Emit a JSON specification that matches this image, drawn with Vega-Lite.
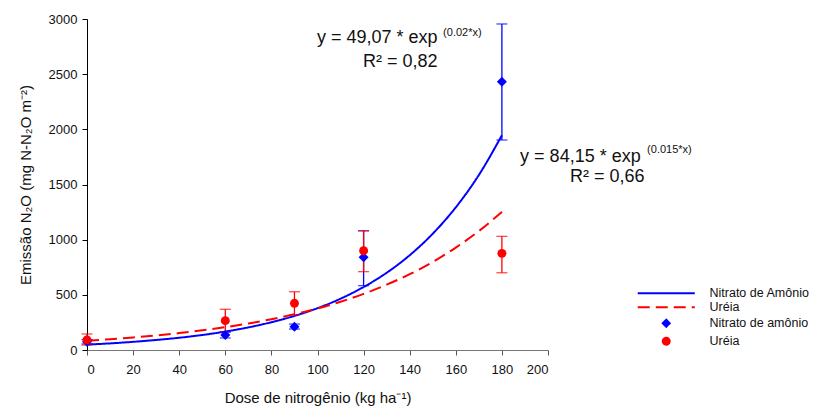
{
  "$schema": "https://vega.github.io/schema/vega-lite/v6.json",
  "width": 461,
  "height": 331,
  "autosize": {"type": "none"},
  "padding": {"left": 87, "top": 19, "right": 265, "bottom": 58},
  "background": "white",
  "config": {
    "font": "Liberation Sans",
    "view": {"stroke": null},
    "axis": {"grid": false, "labelFont": "Liberation Sans", "titleFont": "Liberation Sans", "labelFontSize": 13, "titleFontSize": 15, "titleFontWeight": "normal", "labelColor": "#111", "titleColor": "#111", "format": "d"},
    "legend": {"labelFont": "Liberation Sans", "labelFontSize": 12.5, "labelColor": "#111", "title": null}
  },
  "datasets": {
    "curvas": [
      {"dose": 0, "emissao": 49, "serie": "curva: Nitrato de Amônio"},
      {"dose": 10, "emissao": 60, "serie": "curva: Nitrato de Amônio"},
      {"dose": 20, "emissao": 74, "serie": "curva: Nitrato de Amônio"},
      {"dose": 30, "emissao": 91, "serie": "curva: Nitrato de Amônio"},
      {"dose": 40, "emissao": 111, "serie": "curva: Nitrato de Amônio"},
      {"dose": 50, "emissao": 136, "serie": "curva: Nitrato de Amônio"},
      {"dose": 60, "emissao": 167, "serie": "curva: Nitrato de Amônio"},
      {"dose": 70, "emissao": 205, "serie": "curva: Nitrato de Amônio"},
      {"dose": 80, "emissao": 252, "serie": "curva: Nitrato de Amônio"},
      {"dose": 90, "emissao": 309, "serie": "curva: Nitrato de Amônio"},
      {"dose": 100, "emissao": 379, "serie": "curva: Nitrato de Amônio"},
      {"dose": 110, "emissao": 465, "serie": "curva: Nitrato de Amônio"},
      {"dose": 120, "emissao": 571, "serie": "curva: Nitrato de Amônio"},
      {"dose": 130, "emissao": 700, "serie": "curva: Nitrato de Amônio"},
      {"dose": 140, "emissao": 859, "serie": "curva: Nitrato de Amônio"},
      {"dose": 150, "emissao": 1054, "serie": "curva: Nitrato de Amônio"},
      {"dose": 160, "emissao": 1293, "serie": "curva: Nitrato de Amônio"},
      {"dose": 170, "emissao": 1586, "serie": "curva: Nitrato de Amônio"},
      {"dose": 180, "emissao": 1946, "serie": "curva: Nitrato de Amônio"},
      {"dose": 0, "emissao": 84, "serie": "curva: Uréia"},
      {"dose": 10, "emissao": 98, "serie": "curva: Uréia"},
      {"dose": 20, "emissao": 114, "serie": "curva: Uréia"},
      {"dose": 30, "emissao": 132, "serie": "curva: Uréia"},
      {"dose": 40, "emissao": 153, "serie": "curva: Uréia"},
      {"dose": 50, "emissao": 178, "serie": "curva: Uréia"},
      {"dose": 60, "emissao": 207, "serie": "curva: Uréia"},
      {"dose": 70, "emissao": 240, "serie": "curva: Uréia"},
      {"dose": 80, "emissao": 279, "serie": "curva: Uréia"},
      {"dose": 90, "emissao": 325, "serie": "curva: Uréia"},
      {"dose": 100, "emissao": 377, "serie": "curva: Uréia"},
      {"dose": 110, "emissao": 438, "serie": "curva: Uréia"},
      {"dose": 120, "emissao": 509, "serie": "curva: Uréia"},
      {"dose": 130, "emissao": 592, "serie": "curva: Uréia"},
      {"dose": 140, "emissao": 687, "serie": "curva: Uréia"},
      {"dose": 150, "emissao": 798, "serie": "curva: Uréia"},
      {"dose": 160, "emissao": 928, "serie": "curva: Uréia"},
      {"dose": 170, "emissao": 1078, "serie": "curva: Uréia"},
      {"dose": 180, "emissao": 1252, "serie": "curva: Uréia"}
    ],
    "pontos": [
      {"dose": 0, "emissao": 75, "lo": 55, "hi": 95, "serie": "Nitrato de amônio"},
      {"dose": 60, "emissao": 136, "lo": 109, "hi": 163, "serie": "Nitrato de amônio"},
      {"dose": 90, "emissao": 211, "lo": 190, "hi": 235, "serie": "Nitrato de amônio"},
      {"dose": 120, "emissao": 840, "lo": 583, "hi": 1080, "serie": "Nitrato de amônio"},
      {"dose": 180, "emissao": 2432, "lo": 1903, "hi": 2955, "serie": "Nitrato de amônio"},
      {"dose": 0, "emissao": 91, "lo": 45, "hi": 145, "serie": "Uréia"},
      {"dose": 60, "emissao": 266, "lo": 163, "hi": 369, "serie": "Uréia"},
      {"dose": 90, "emissao": 423, "lo": 318, "hi": 528, "serie": "Uréia"},
      {"dose": 120, "emissao": 900, "lo": 710, "hi": 1081, "serie": "Uréia"},
      {"dose": 180, "emissao": 876, "lo": 700, "hi": 1030, "serie": "Uréia"}
    ],
    "textos": [
      {"dose": 99.8, "emissao": 2828, "kind": "main", "texto": "y = 49,07 * exp"},
      {"dose": 154.5, "emissao": 2873, "kind": "sup", "texto": "(0.02*x)"},
      {"dose": 119.7, "emissao": 2610, "kind": "main", "texto": "R² = 0,82"},
      {"dose": 187.9, "emissao": 1749, "kind": "main", "texto": "y = 84,15 * exp"},
      {"dose": 243.0, "emissao": 1813, "kind": "sup", "texto": "(0.015*x)"},
      {"dose": 209.5, "emissao": 1568, "kind": "main", "texto": "R² = 0,66"}
    ]
  },
  "encoding": {
    "x": {
      "field": "dose", "type": "quantitative",
      "scale": {"domain": [0, 200], "nice": false},
      "axis": {"values": [0, 20, 40, 60, 80, 100, 120, 140, 160, 180, 200], "title": "Dose de nitrogênio (kg ha⁻¹)", "domainColor": "#777", "tickColor": "#555", "tickSize": 5, "labelPadding": 8, "titleX": 230.5, "titleY": 47, "titleBaseline": "middle"}
    },
    "y": {
      "field": "emissao", "type": "quantitative",
      "scale": {"domain": [0, 3000], "nice": false},
      "axis": {"values": [0, 500, 1000, 1500, 2000, 2500, 3000], "title": "Emissão N₂O (mg N-N₂O m⁻²)", "domainColor": "#000", "tickColor": "#000", "tickSize": 5, "labelPadding": 5, "titleX": -62, "titleY": 165.5, "titleBaseline": "middle", "titleAngle": -90}
    },
    "color": {
      "field": "serie", "type": "nominal",
      "scale": {"domain": ["curva: Nitrato de Amônio", "curva: Uréia", "Nitrato de amônio", "Uréia"], "range": ["#0000ff", "#ff0000", "#0000ff", "#ff0000"]},
      "legend": {
        "orient": "none", "legendX": 573, "legendY": 268,
        "symbolSize": 45, "symbolStrokeWidth": 2, "labelOffset": 37, "rowPadding": 1,
        "labelExpr": "replace(datum.label, 'curva: ', '')",
        "encode": {
          "symbols": {
            "update": {
              "shape": {"signal": "indexof(datum.value, 'curva') === 0 ? 'M-8.5,0H8.5' : (datum.value === 'Uréia' ? 'circle' : 'diamond')"},
              "fill": {"signal": "indexof(datum.value, 'curva') === 0 ? 'transparent' : (indexof(datum.value, 'Nitrato') >= 0 ? '#0000ff' : '#ff0000')"},
              "stroke": {"signal": "indexof(datum.value, 'Nitrato') >= 0 ? '#0000ff' : '#ff0000'"},
              "strokeWidth": {"value": 2.2},
              "strokeDash": {"signal": "datum.value === 'curva: Uréia' ? [12, 6] : [1, 0]"},
              "opacity": {"value": 1}
            }
          }
        }
      }
    }
  },
  "layer": [
    {
      "data": {"name": "curvas"},
      "mark": {"type": "line", "strokeWidth": 2, "interpolate": "monotone", "clip": false},
      "encoding": {
        "strokeDash": {"field": "serie", "type": "nominal", "scale": {"domain": ["curva: Nitrato de Amônio", "curva: Uréia"], "range": [[1, 0], [12, 6]]}, "legend": null}
      }
    },
    {
      "data": {"name": "pontos"},
      "mark": {"type": "rule", "strokeWidth": 1.3},
      "encoding": {
        "y": {"field": "lo", "type": "quantitative"},
        "y2": {"field": "hi"}
      }
    },
    {
      "data": {"name": "pontos"},
      "mark": {"type": "tick", "orient": "horizontal", "size": 11, "thickness": 1.3},
      "encoding": {"y": {"field": "lo", "type": "quantitative"}}
    },
    {
      "data": {"name": "pontos"},
      "mark": {"type": "tick", "orient": "horizontal", "size": 11, "thickness": 1.3},
      "encoding": {"y": {"field": "hi", "type": "quantitative"}}
    },
    {
      "data": {"name": "pontos"},
      "transform": [{"filter": "datum.serie === 'Nitrato de amônio'"}],
      "mark": {"type": "point", "filled": true, "opacity": 1, "shape": "diamond", "size": 100}
    },
    {
      "data": {"name": "pontos"},
      "transform": [{"filter": "datum.serie === 'Uréia'"}],
      "mark": {"type": "point", "filled": true, "opacity": 1, "shape": "circle", "size": 80}
    },
    {
      "data": {"name": "textos"},
      "transform": [{"filter": "datum.kind === 'main'"}],
      "mark": {"type": "text", "align": "left", "baseline": "middle", "fontSize": 18, "color": "#111", "font": "Liberation Sans"},
      "encoding": {"text": {"field": "texto"}, "color": null}
    },
    {
      "data": {"name": "textos"},
      "transform": [{"filter": "datum.kind === 'sup'"}],
      "mark": {"type": "text", "align": "left", "baseline": "middle", "fontSize": 11, "color": "#111", "font": "Liberation Sans"},
      "encoding": {"text": {"field": "texto"}, "color": null}
    }
  ]
}
